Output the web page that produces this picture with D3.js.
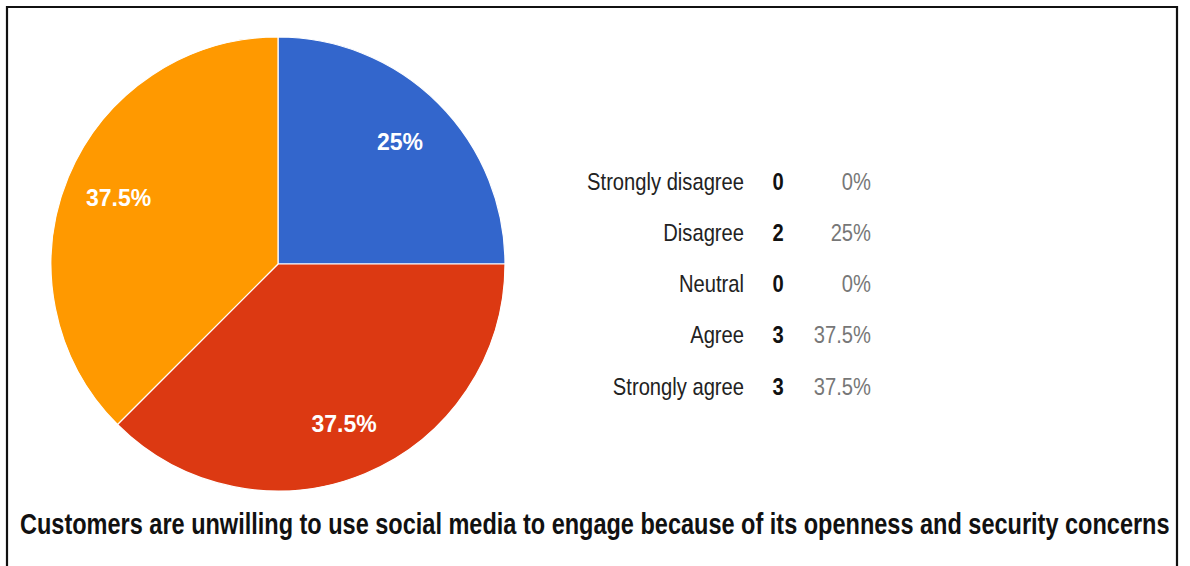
<!DOCTYPE html>
<html>
<head>
<meta charset="utf-8">
<script src="https://cdn.jsdelivr.net/npm/d3@7"></script>
<style>
  html, body { margin: 0; padding: 0; background: #fff; }
  svg { display: block; }
</style>
</head>
<body>
<svg id="chart" width="1190" height="566"></svg>
<script>
// Survey responses
const categories = ["Strongly disagree", "Disagree", "Neutral", "Agree", "Strongly agree"];
const counts = [0, 2, 0, 3, 3];
const sliceColors = ["#109618", "#3366cc", "#990099", "#dc3912", "#ff9900"];
const title = "Customers are unwilling to use social media to engage because of its openness and security concerns";

const svg = d3.select("#chart");
const W = 1190, H = 566;
const FONT = "Liberation Sans, Arial, sans-serif";

// outer frame
svg.append("path")
  .attr("d", `M7,${H + 2} V7 H1177 V${H + 2}`)
  .attr("fill", "none")
  .attr("stroke", "#111")
  .attr("stroke-width", 2.2);

const total = d3.sum(counts);
const data = categories.map((c, i) => ({ cat: c, n: counts[i], color: sliceColors[i] }));

// pie
const cx = 278, cy = 264, r = 227;
const pie = d3.pie().value(d => d.n).sort(null);
const arc = d3.arc().innerRadius(0).outerRadius(r);
const labelArc = d3.arc().innerRadius(r * 0.76).outerRadius(r * 0.76);

const g = svg.append("g").attr("transform", `translate(${cx},${cy})`);
const arcs = pie(data).filter(d => d.data.n > 0);

g.selectAll("path.slice")
  .data(arcs)
  .join("path")
  .attr("class", "slice")
  .attr("d", arc)
  .attr("fill", d => d.data.color)
  .attr("stroke", "#fff")
  .attr("stroke-width", 1.2);

const pct = n => {
  const p = n / total * 100;
  return (Math.round(p * 10) / 10) + "%";
};

g.selectAll("text.slice-label")
  .data(arcs)
  .join("text")
  .attr("class", "slice-label")
  .attr("transform", d => `translate(${labelArc.centroid(d)})`)
  .attr("text-anchor", "middle")
  .attr("dy", "0.36em")
  .attr("fill", "#fff")
  .attr("font-family", FONT)
  .attr("font-weight", "bold")
  .attr("font-size", 23)
  .text(d => pct(d.data.n));

// legend table, set in a condensed face (horizontally squeezed)
const rowY = d3.scalePoint().domain(categories).range([181, 386]);
const legend = svg.append("g")
  .attr("font-family", FONT)
  .attr("font-size", 24);

// measure the widest label to derive the condensing factor
const probe = legend.append("text").text(categories[0]);
const squeeze = 157 / probe.node().getComputedTextLength();
probe.remove();

const rows = legend.selectAll("g.row")
  .data(data)
  .join("g")
  .attr("class", "row")
  .attr("transform", d => `translate(0,${rowY(d.cat)})`);

rows.append("text")
  .attr("transform", `translate(744,0) scale(${squeeze},1)`)
  .attr("dy", "0.36em")
  .attr("text-anchor", "end")
  .attr("fill", "#222")
  .text(d => d.cat);

rows.append("text")
  .attr("transform", `translate(778,0) scale(${squeeze},1)`)
  .attr("dy", "0.36em")
  .attr("text-anchor", "middle")
  .attr("font-weight", "bold")
  .attr("fill", "#111")
  .text(d => d.n);

rows.append("text")
  .attr("transform", `translate(871,0) scale(${squeeze},1)`)
  .attr("dy", "0.36em")
  .attr("text-anchor", "end")
  .attr("fill", "#777")
  .text(d => pct(d.n));

// caption, condensed to span the frame
const cap = svg.append("text")
  .attr("font-family", FONT)
  .attr("font-weight", "bold")
  .attr("font-size", 29)
  .attr("fill", "#111")
  .text(title);
const capScale = 1150 / cap.node().getComputedTextLength();
cap.attr("transform", `translate(20,534) scale(${capScale},1)`);
</script>
</body>
</html>
